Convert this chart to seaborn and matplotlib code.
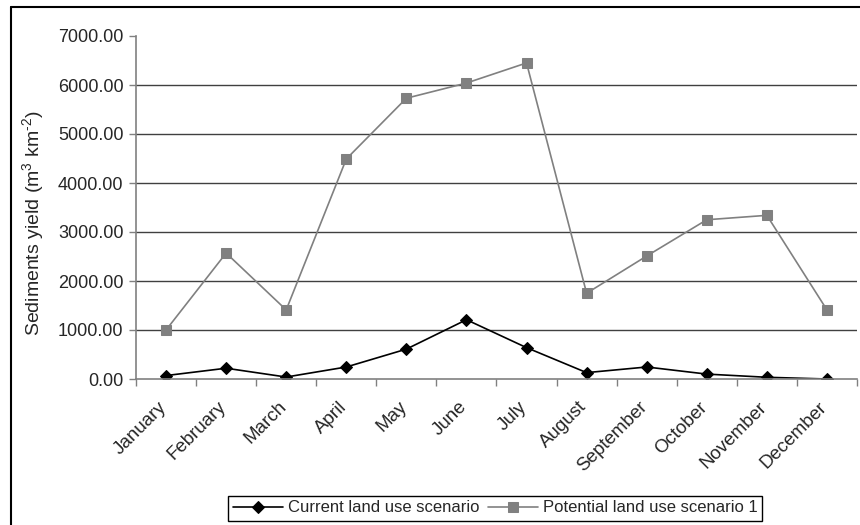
"""
Sediment yield per month, current vs potential land use.
"""

import matplotlib
from matplotlib import pyplot as plt
from matplotlib.lines import Line2D
from matplotlib.ticker import FixedLocator
from matplotlib import transforms
import seaborn as sns
import pandas as pd

matplotlib.use('Agg')

months = ['January', 'February', 'March', 'April', 'May', 'June', 'July',
          'August', 'September', 'October', 'November', 'December']
current = [70, 220, 40, 245, 610, 1210, 640, 130, 245, 100, 35, 0]
potential = [1000, 2570, 1410, 4490, 5730, 6040, 6450, 1750, 2510, 3250, 3340, 1410]
y_ticks = [0, 1000, 2000, 3000, 4000, 5000, 6000, 7000]

df = pd.DataFrame({'month': months, 'current': current, 'potential': potential})

sns.set_style('white')
plt.rcParams['font.family'] = ['Liberation Sans', 'DejaVu Sans']
plt.rcParams['mathtext.fontset'] = 'custom'
plt.rcParams['mathtext.rm'] = 'Liberation Sans'
plt.rcParams['mathtext.it'] = 'Liberation Sans'

fig = plt.figure(figsize=(8.6, 5.25), dpi=100)
ax = fig.add_axes([136 / 860, 1 - 379 / 525, (857 - 136) / 860, (379 - 36) / 525])

# Lineas con marcadores
sns.lineplot(x='month', y='current', data=df, ax=ax, color='black', lw=1.2,
             marker='D', markersize=6, markeredgecolor='black',
             label='Current land use scenario')
sns.lineplot(x='month', y='potential', data=df, ax=ax, color='#808080', lw=1.2,
             marker='s', markersize=7, markeredgecolor='#808080',
             label='Potential land use scenario 1')

ax.set_xlim(-0.5, 11.5)
ax.set_ylim(0, 7000)
ax.set_yticks(y_ticks)
ax.set_yticklabels([f'{v:.2f}' for v in y_ticks], fontsize=13)
ax.set_xticks(range(len(months)))
ax.set_xticklabels(months, rotation=45, ha='right', rotation_mode='anchor', fontsize=13.5)
ax.xaxis.set_minor_locator(FixedLocator([i - 0.5 for i in range(len(months) + 1)]))
ax.tick_params(axis='x', which='major', length=0, pad=14)
ax.tick_params(axis='x', which='minor', length=5, width=1, color='#808080', direction='out')
ax.tick_params(axis='y', length=5, width=1, color='#808080', direction='out', pad=4)
ax.xaxis.set_ticks_position('bottom')
ax.yaxis.set_ticks_position('left')

# Desplazamos las etiquetas del mes un poco a la izquierda
shift = transforms.ScaledTranslation(-6 / 72, 0, fig.dpi_scale_trans)
for lbl in ax.get_xticklabels():
    lbl.set_transform(lbl.get_transform() + shift)

# Lineas de cuadricula (sin la de 7000)
for v in y_ticks[1:-1]:
    ax.axhline(v, color='#404040', lw=1, zorder=0)

for side in ['top', 'right']:
    ax.spines[side].set_visible(False)
for side in ['left', 'bottom']:
    ax.spines[side].set_color('#808080')
    ax.spines[side].set_linewidth(1.2)

ax.set_xlabel('')
ax.set_ylabel(r'Sediments yield (m$^3$ km$^{\text{-2}}$)', fontsize=14)
ax.yaxis.set_label_coords((46 - 136) / 721, 0.455)

ax.legend(loc='center', bbox_to_anchor=(495 / 860, 1 - 508 / 525),
          bbox_transform=fig.transFigure, ncol=2, fontsize=12, frameon=True,
          fancybox=False, edgecolor='black', framealpha=1, handlelength=3,
          columnspacing=0.5, handletextpad=0.3, borderpad=0.3)
ax.get_legend().get_frame().set_linewidth(1)

# Marco exterior recortado
fig.add_artist(Line2D([11 / 860, 11 / 860], [0, 1 - 7 / 525], color='black', lw=1.5))
fig.add_artist(Line2D([11 / 860, 1], [1 - 7 / 525, 1 - 7 / 525], color='black', lw=1.5))

fig.savefig('out.png', dpi=100)
plt.close(fig)
